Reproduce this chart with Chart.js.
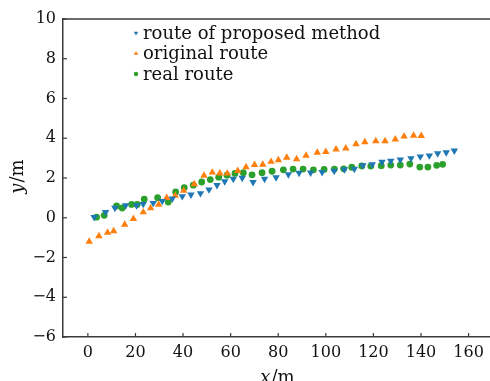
<!DOCTYPE html>
<html>
<head>
<meta charset="utf-8">
<script src="https://cdn.jsdelivr.net/npm/chart.js@4/dist/chart.umd.min.js"></script>
<style>
html,body{margin:0;padding:0;background:#fff;overflow:hidden;}
canvas{display:block;}
</style>
</head>
<body>
<canvas id="c" width="490" height="381"></canvas>
<script>
// Series: route of proposed method (blue, down triangles)
const proposedX = [2.65,7.45,11.36,15.86,20.49,23.26,27.47,31.26,35.47,39.67,43.33,47.33,50.9,54.27,57.51,61.13,64.87,69.42,74.25,79.09,84.27,88.77,93.61,98.44,103.5,107.8,112.0,115.6,119.5,123.6,127.3,131.3,135.8,139.7,143.5,147.0,150.6,154.0];
const proposedY = [0.03,0.28,0.49,0.62,0.62,0.69,0.74,0.84,0.96,1.08,1.16,1.23,1.42,1.64,1.83,1.95,2.00,1.79,1.95,2.03,2.18,2.26,2.27,2.29,2.36,2.43,2.46,2.63,2.68,2.81,2.86,2.92,2.99,3.08,3.13,3.24,3.29,3.37];
// Series: original route (orange, up triangles)
const originalX = [0.55,4.63,8.29,10.85,15.48,19.14,23.26,26.38,29.74,33.11,36.73,40.26,44.72,48.8,52.29,55.45,58.6,62.98,66.47,70.05,73.5,76.99,80.06,83.59,87.72,91.7,96.42,100.0,104.3,108.4,112.7,116.4,121.0,124.9,129.2,132.9,136.9,140.1];
const originalY = [-1.20,-0.92,-0.75,-0.67,-0.34,-0.05,0.28,0.48,0.66,1.00,1.11,1.36,1.69,2.12,2.28,2.24,2.23,2.36,2.55,2.66,2.68,2.82,2.90,3.03,2.95,3.13,3.28,3.32,3.44,3.49,3.71,3.81,3.86,3.86,3.95,4.09,4.13,4.12];
// Series: real route (green, circles)
const realX = [3.66,6.86,12.07,14.43,18.38,20.74,23.69,29.32,33.78,36.9,40.51,44.3,47.83,51.45,54.98,58.48,61.84,65.33,69.0,73.2,77.41,82.16,86.24,90.45,94.78,99.28,103.6,107.5,110.9,115.1,118.9,123.3,127.3,131.3,135.3,139.5,142.9,146.6,149.1];
const realY = [0.03,0.12,0.59,0.49,0.67,0.67,0.93,1.01,0.79,1.30,1.52,1.64,1.80,1.92,2.04,2.14,2.23,2.27,2.16,2.27,2.34,2.41,2.45,2.45,2.41,2.43,2.45,2.46,2.54,2.61,2.60,2.62,2.65,2.65,2.70,2.55,2.55,2.64,2.69];

const seriesLabels = ['route of proposed method','original route','real route'];
const xTicks = [0,20,40,60,80,100,120,140,160];
const yTicks = [-6,-4,-2,0,2,4,6,8,10];

const toPts = (xs, ys) => xs.map((x, i) => ({x: x, y: ys[i]}));

const SPINE = '#3a3a3a';
const FONT = '"DejaVu Serif", serif';

const decor = {
  id: 'decor',
  afterDraw(chart) {
    const ctx = chart.ctx;
    const a = chart.chartArea;
    const xs = chart.scales.x, ys = chart.scales.y;
    ctx.save();
    ctx.strokeStyle = SPINE;
    ctx.lineWidth = 1.5;
    // top spine
    ctx.beginPath();
    ctx.moveTo(a.left, a.top);
    ctx.lineTo(chart.width, a.top);
    ctx.stroke();
    // extend bottom spine to the picture edge
    ctx.beginPath();
    ctx.moveTo(a.right, a.bottom);
    ctx.lineTo(chart.width, a.bottom);
    ctx.stroke();
    // inward ticks
    ctx.lineWidth = 1.2;
    xs.ticks.forEach((t, i) => {
      const px = xs.getPixelForTick(i);
      ctx.beginPath(); ctx.moveTo(px, a.bottom); ctx.lineTo(px, a.bottom - 4); ctx.stroke();
    });
    ys.ticks.forEach((t, i) => {
      const py = ys.getPixelForTick(i);
      ctx.beginPath(); ctx.moveTo(a.left, py); ctx.lineTo(a.left + 4, py); ctx.stroke();
    });
    // legend
    const ds = chart.data.datasets;
    const lx = 136, ly0 = 33, dy = 20.5;
    ds.forEach((d, i) => {
      const y = ly0 + i * dy;
      ctx.fillStyle = d.backgroundColor;
      ctx.beginPath();
      if (d.pointStyle === 'circle') {
        ctx.arc(lx, y, 2.2, 0, Math.PI * 2);
      } else {
        const r = 2.6;
        const s = d.pointRotation === 180 ? -1 : 1;
        ctx.moveTo(lx, y - s * r);
        ctx.lineTo(lx - r * 0.87, y + s * r * 0.5);
        ctx.lineTo(lx + r * 0.87, y + s * r * 0.5);
        ctx.closePath();
      }
      ctx.fill();
      ctx.fillStyle = '#111';
      ctx.font = '18px ' + FONT;
      ctx.textBaseline = 'middle';
      ctx.textAlign = 'left';
      ctx.fillText(d.label, 143, y + 1);
    });
    // axis titles
    ctx.fillStyle = '#111';
    ctx.textBaseline = 'alphabetic';
    const xt1 = 'x', xt2 = '/m';
    ctx.font = 'italic 18px ' + FONT;
    const w1 = ctx.measureText(xt1).width;
    ctx.font = '18px ' + FONT;
    const w2 = ctx.measureText(xt2).width;
    let sx = 277 - (w1 + w2) / 2;
    ctx.font = 'italic 18px ' + FONT;
    ctx.fillText(xt1, sx, 383);
    ctx.font = '18px ' + FONT;
    ctx.fillText(xt2, sx + w1 + 1, 383);
    ctx.save();
    ctx.translate(23, 177);
    ctx.rotate(-Math.PI / 2);
    ctx.font = 'italic 18px ' + FONT;
    const v1 = ctx.measureText('y').width;
    ctx.font = '18px ' + FONT;
    const v2 = ctx.measureText('/m').width;
    let sy = -(v1 + v2) / 2;
    ctx.font = 'italic 18px ' + FONT;
    ctx.fillText('y', sy, 0);
    ctx.font = '18px ' + FONT;
    ctx.fillText('/m', sy + v1 + 1, 0);
    ctx.restore();
    ctx.restore();
  }
};

new Chart(document.getElementById('c'), {
  type: 'scatter',
  data: {
    datasets: [
      { label: seriesLabels[0], data: toPts(proposedX, proposedY), pointStyle: 'triangle', pointRotation: 180,
        backgroundColor: '#1f77b4', borderColor: '#1f77b4', borderWidth: 0, pointRadius: 4.3 },
      { label: seriesLabels[1], data: toPts(originalX, originalY), pointStyle: 'triangle', pointRotation: 0,
        backgroundColor: '#ff7f0e', borderColor: '#ff7f0e', borderWidth: 0, pointRadius: 4.3 },
      { label: seriesLabels[2], data: toPts(realX, realY), pointStyle: 'circle',
        backgroundColor: '#2ca02c', borderColor: '#2ca02c', borderWidth: 0, pointRadius: 3.4 }
    ]
  },
  options: {
    responsive: false,
    devicePixelRatio: 1,
    animation: false,
    layout: { autoPadding: false, padding: { top: 19, right: 0, left: 0, bottom: 0 } },
    plugins: { legend: { display: false }, tooltip: { enabled: false } },
    scales: {
      x: {
        type: 'linear', min: -10.45, max: 169,
        afterBuildTicks: s => { s.ticks = xTicks.map(v => ({value: v})); },
        afterFit: s => { s.height = 44; },
        grid: { display: true, drawOnChartArea: false, drawTicks: false },
        border: { display: true, color: SPINE, width: 1.5 },
        ticks: { color: '#111', font: { family: FONT, size: 16 }, padding: 6, maxRotation: 0, autoSkip: false }
      },
      y: {
        type: 'linear', min: -6, max: 10,
        afterBuildTicks: s => { s.ticks = yTicks.map(v => ({value: v})); },
        afterFit: s => { s.width = 63; },
        grid: { display: true, drawOnChartArea: false, drawTicks: false },
        border: { display: true, color: SPINE, width: 1.5 },
        ticks: { color: '#111', font: { family: FONT, size: 16 }, padding: 7,
                 callback: v => (v < 0 ? '\u2212' + Math.abs(v) : String(v)) }
      }
    }
  },
  plugins: [decor]
});
</script>
</body>
</html>
